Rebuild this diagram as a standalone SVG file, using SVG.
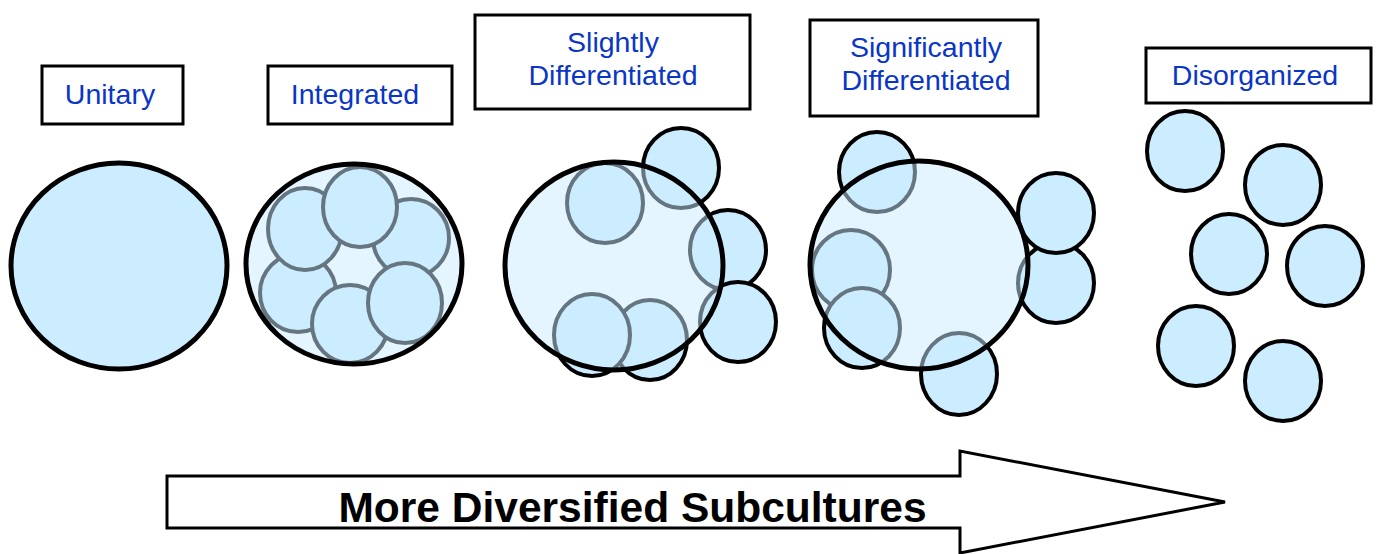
<svg xmlns="http://www.w3.org/2000/svg" width="1379" height="554" viewBox="0 0 1379 554">
<style>
.lbl{fill:#fff;stroke:#000;stroke-width:3}
.lt{font-family:"Liberation Sans",Arial,sans-serif;font-size:28.5px;fill:#0a36c8;text-anchor:middle}
.sc{fill:#ccecff;stroke:#000;stroke-width:4}
.big{fill:#ccecff;fill-opacity:0.5;stroke:#000;stroke-width:5}
.solid{fill:#ccecff;stroke:#000;stroke-width:5}
.at{font-family:"Liberation Sans",Arial,sans-serif;font-size:42.5px;font-weight:bold;fill:#000}
</style>
<rect width="1379" height="554" fill="#fff"/>

<g id="unitary">
<rect class="lbl" x="42" y="66" width="141" height="58"/>
<text class="lt" x="110" y="104">Unitary</text>
<ellipse class="solid" cx="119" cy="266" rx="108" ry="103"/>
</g>

<g id="integrated">
<rect class="lbl" x="268" y="66" width="184" height="58"/>
<text class="lt" x="355" y="104">Integrated</text>
<ellipse class="sc" cx="298" cy="293" rx="38" ry="39"/>
<ellipse class="sc" cx="305" cy="229" rx="37" ry="41"/>
<ellipse class="sc" cx="411" cy="238" rx="38" ry="39"/>
<ellipse class="sc" cx="360" cy="207" rx="37" ry="40"/>
<ellipse class="sc" cx="350" cy="324" rx="38" ry="39"/>
<ellipse class="sc" cx="405" cy="303" rx="37" ry="40"/>
<ellipse class="big" cx="354" cy="264" rx="108" ry="100"/>
</g>

<g id="slightly">
<rect class="lbl" x="475" y="15" width="275" height="94"/>
<text class="lt" x="613" y="52">Slightly</text>
<text class="lt" x="613" y="85">Differentiated</text>
<ellipse class="sc" cx="605" cy="203" rx="38" ry="40"/>
<ellipse class="sc" cx="681" cy="168" rx="38" ry="40"/>
<ellipse class="sc" cx="728" cy="250" rx="38" ry="40"/>
<ellipse class="sc" cx="738" cy="322" rx="38" ry="40"/>
<ellipse class="sc" cx="650" cy="340" rx="37" ry="40"/>
<ellipse class="sc" cx="592" cy="335" rx="38" ry="41"/>
<ellipse class="big" cx="614" cy="266" rx="109" ry="104"/>
</g>

<g id="significantly">
<rect class="lbl" x="810" y="20" width="228" height="96"/>
<text class="lt" x="926" y="57">Significantly</text>
<text class="lt" x="926" y="90">Differentiated</text>
<ellipse class="sc" cx="877" cy="172" rx="38" ry="40"/>
<ellipse class="sc" cx="1056" cy="283" rx="38" ry="40"/>
<ellipse class="sc" cx="1056" cy="213" rx="38" ry="40"/>
<ellipse class="sc" cx="851" cy="270" rx="39" ry="40"/>
<ellipse class="sc" cx="862" cy="328" rx="38" ry="40"/>
<ellipse class="sc" cx="959" cy="374" rx="38" ry="41"/>
<ellipse class="big" cx="919" cy="265" rx="109" ry="104"/>
</g>

<g id="disorganized">
<rect class="lbl" x="1146" y="48" width="225" height="55"/>
<text class="lt" x="1255" y="85">Disorganized</text>
<ellipse class="sc" cx="1185" cy="151" rx="38" ry="40"/>
<ellipse class="sc" cx="1283" cy="185" rx="38" ry="40"/>
<ellipse class="sc" cx="1229" cy="254" rx="38" ry="40"/>
<ellipse class="sc" cx="1325" cy="266" rx="38" ry="40"/>
<ellipse class="sc" cx="1196" cy="346" rx="38" ry="40"/>
<ellipse class="sc" cx="1283" cy="381" rx="38" ry="40"/>
</g>

<g id="connectors">
<g id="arrow">
<polygon points="167,476 960,476 960,451 1225,502 960,553 960,528 167,528" fill="#fff" stroke="#000" stroke-width="3" stroke-linejoin="miter"/>
<text class="at" x="632.5" y="522" text-anchor="middle">More Diversified Subcultures</text>
</g>
</g>
</svg>
